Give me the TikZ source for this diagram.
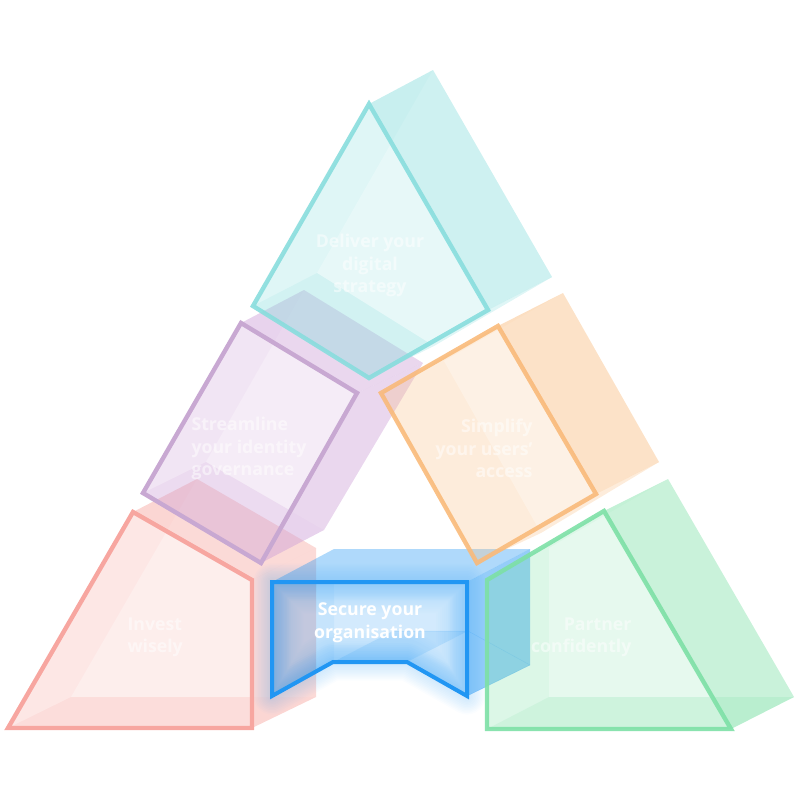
\documentclass[tikz,border=0pt]{standalone}
\usepackage{fontspec}
\setmainfont{Open Sans}
\definecolor{tealrim}{RGB}{136,221,221}
\definecolor{purplerim}{RGB}{200,168,210}
\definecolor{purplefill}{RGB}{205,160,215}
\definecolor{orangerim}{RGB}{249,186,122}
\definecolor{pinkrim}{RGB}{247,166,160}
\definecolor{greenrim}{RGB}{125,224,166}
\definecolor{bluerim}{RGB}{33,150,243}
\tikzset{
    prism/.style={fill=#1,draw=#1},
    sideface/.style={fill opacity=0.46},
    backface/.style={fill=white,fill opacity=0.1},
    frontface/.style={fill opacity=0.27},
    innerface/.style={fill=white,fill opacity=0.28},
    underface/.style={fill opacity=0.15},
    rim/.style={line width=4.4pt,line join=miter},
    lbl/.style={text=white,text opacity=0.5,font=\bfseries\fontsize{17.7}{22.6}\selectfont}
}
\begin{document}
\begin{tikzpicture}[x=1pt,y=-1pt]
            \useasboundingbox (0,0) rectangle (800,800);

            % Invest wisely
            \coordinate (R1) at (133,512);
            \coordinate (R2) at (252,580);
            \coordinate (R3) at (252,728);
            \coordinate (R4) at (8,728);
            \coordinate (r1) at (197,479);
            \coordinate (r2) at (316,548);
            \coordinate (r3) at (316,697);
            \coordinate (r4) at (71,697);
            \begin{scope}[prism=pinkrim]
                \fill[sideface] (R1) -- (r1) -- (r2) -- (R2) --cycle;
                \fill[sideface] (R2) -- (r2) -- (r3) -- (R3) --cycle;
                \fill[backface] (r1) -- (r2) -- (r3) -- (r4) --cycle;
                \fill[frontface] (R1) -- (R2) -- (R3) -- (R4) --cycle;
                \begin{scope}
                    \clip (R1) -- (R2) -- (R3) -- (R4) --cycle;
                    \fill[innerface] (r1) -- (r2) -- (r3) -- (r4) --cycle;
                    \fill[underface] (R4) -- (r4) -- (r3) -- (R3) --cycle;
                \end{scope}
                \draw[rim] (R1) -- (R2) -- (R3) -- (R4) --cycle;
            \end{scope}

            % Streamline your identity governance
            \coordinate (P1) at (241,323);
            \coordinate (P2) at (357,393);
            \coordinate (P3) at (261,563);
            \coordinate (P4) at (143,493);
            \coordinate (p1) at (304,290);
            \coordinate (p2) at (423,363);
            \coordinate (p3) at (324,530);
            \coordinate (p4) at (206,462);
            \begin{scope}[prism=purplefill,draw=purplerim]
                \fill[sideface] (P1) -- (p1) -- (p2) -- (P2) --cycle;
                \fill[sideface] (P2) -- (p2) -- (p3) -- (P3) --cycle;
                \fill[backface] (p1) -- (p2) -- (p3) -- (p4) --cycle;
                \fill[frontface] (P1) -- (P2) -- (P3) -- (P4) --cycle;
                \begin{scope}
                    \clip (P1) -- (P2) -- (P3) -- (P4) --cycle;
                    \fill[innerface] (p1) -- (p2) -- (p3) -- (p4) --cycle;
                    \fill[underface] (P4) -- (p4) -- (p3) -- (P3) --cycle;
                \end{scope}
                \draw[rim] (P1) -- (P2) -- (P3) -- (P4) --cycle;
            \end{scope}

            % Secure your organisation
            \coordinate (B1) at (272,582);
            \coordinate (B2) at (467,582);
            \coordinate (B3) at (467,696);
            \coordinate (B4) at (407,662);
            \coordinate (B5) at (333,662);
            \coordinate (B6) at (272,696);
            \coordinate (b1) at (334,549);
            \coordinate (b2) at (530,549);
            \coordinate (b3) at (530,665);
            \coordinate (b4) at (468,631);
            \coordinate (b5) at (393,631);
            \coordinate (b6) at (334,665);
            \begin{scope}[prism=bluerim]
                \foreach \glow in {4,7,...,37}
                    \draw[line width=\glow pt,opacity=0.02,line join=round] (B1) -- (B2) -- (B3) -- (B4) -- (B5) -- (B6) --cycle;
                \fill[fill opacity=0.36] (B1) -- (b1) -- (b2) -- (B2) --cycle;
                \fill[fill opacity=0.48] (B2) -- (b2) -- (b3) -- (B3) --cycle;
                \fill[fill opacity=0.2] (B1) -- (B2) -- (B3) -- (B4) -- (B5) -- (B6) --cycle;
                \begin{scope}
                    \clip (B1) -- (B2) -- (B3) -- (B4) -- (B5) -- (B6) --cycle;
                    \fill[underface] (B5) -- (b5) -- (b4) -- (B4) --cycle;
                    \fill[fill opacity=0.07] (B1) -- (b1) -- (b6) -- (B6) --cycle;
                    \foreach \glow in {6,10,...,62}
                        \draw[line width=\glow pt,opacity=0.015,line join=round] (B1) -- (B2) -- (B3) -- (B4) -- (B5) -- (B6) --cycle;
                \end{scope}
                \draw[opacity=0.3,line width=0.5pt] (B3) -- (b3);
                \draw[opacity=0.2,line width=0.5pt] (b5) -- (b4) -- (b3);
                \draw[rim,line width=4pt] (B1) -- (B2) -- (B3) -- (B4) -- (B5) -- (B6) --cycle;
            \end{scope}

            % Simplify your users' access
            \coordinate (O1) at (498,326);
            \coordinate (O2) at (596,494);
            \coordinate (O3) at (477,563);
            \coordinate (O4) at (381,393);
            \coordinate (o1) at (563,293);
            \coordinate (o2) at (659,462);
            \coordinate (o3) at (541,533);
            \coordinate (o4) at (444,361);
            \begin{scope}[prism=orangerim]
                \fill[sideface] (O1) -- (o1) -- (o2) -- (O2) --cycle;
                \fill[backface] (o1) -- (o2) -- (o3) -- (o4) --cycle;
                \fill[frontface] (O2) -- (o2) -- (o3) -- (O3) --cycle;
                \fill[frontface] (O1) -- (O2) -- (O3) -- (O4) --cycle;
                \begin{scope}
                    \clip (O1) -- (O2) -- (O3) -- (O4) --cycle;
                    \fill[innerface] (o1) -- (o2) -- (o3) -- (o4) --cycle;
                \end{scope}
                \draw[rim,draw opacity=0.9] (O1) -- (O2) -- (O3) -- (O4) --cycle;
            \end{scope}

            % Partner confidently
            \coordinate (G1) at (604,511);
            \coordinate (G2) at (731,729);
            \coordinate (G3) at (487,729);
            \coordinate (G4) at (487,580);
            \coordinate (g1) at (668,479);
            \coordinate (g2) at (794,697);
            \coordinate (g3) at (549,697);
            \coordinate (g4) at (549,548);
            \begin{scope}[prism=greenrim]
                \fill[sideface] (G1) -- (g1) -- (g2) -- (G2) --cycle;
                \fill[backface] (g1) -- (g2) -- (g3) -- (g4) --cycle;
                \fill[frontface] (G1) -- (G2) -- (G3) -- (G4) --cycle;
                \begin{scope}
                    \clip (G1) -- (G2) -- (G3) -- (G4) --cycle;
                    \fill[innerface] (g1) -- (g2) -- (g3) -- (g4) --cycle;
                \end{scope}
                \fill[underface] (G3) -- (g3) -- (g2) -- (G2) --cycle;
                \draw[rim,draw opacity=0.9] (G1) -- (G2) -- (G3) -- (G4) --cycle;
            \end{scope}

            % Deliver your digital strategy
            \coordinate (T1) at (369,104);
            \coordinate (T2) at (488,310);
            \coordinate (T3) at (369,378);
            \coordinate (T4) at (253,306);
            \coordinate (t1) at (433,70);
            \coordinate (t2) at (552,277);
            \coordinate (t3) at (434,346);
            \coordinate (t4) at (317,273);
            \begin{scope}[prism=tealrim]
                \fill[sideface] (T1) -- (t1) -- (t2) -- (T2) --cycle;
                \fill[backface] (t1) -- (t2) -- (t3) -- (t4) --cycle;
                \fill[frontface] (T2) -- (t2) -- (t3) -- (T3) --cycle;
                \fill[frontface] (T1) -- (T2) -- (T3) -- (T4) --cycle;
                \begin{scope}
                    \clip (T1) -- (T2) -- (T3) -- (T4) --cycle;
                    \fill[innerface] (t1) -- (t2) -- (t3) -- (t4) --cycle;
                    \fill[underface] (T4) -- (t4) -- (t3) -- (T3) --cycle;
                \end{scope}
                \draw[rim,draw opacity=0.9] (T1) -- (T2) -- (T3) -- (T4) --cycle;
            \end{scope}

            \node[lbl,align=center] (deliver) at (370,265.5) {Deliver your\\digital\\strategy};
            \node[lbl,align=left,anchor=west] (streamline) at (188,448.5) {Streamline\\your identity\\governance};
            \node[lbl,align=right,anchor=east] (simplify) at (536,448.5) {Simplify\\your users'\\access};
            \node[lbl,align=left,anchor=west] (invest) at (124,637.5) {Invest\\wisely};
            \node[lbl,align=right,anchor=east] (partner) at (635,637.5) {Partner\\confidently};
            \node[lbl,text opacity=1,align=center] (secure) at (370,622.5) {Secure your\\organisation};
        \end{tikzpicture}
\end{document}
